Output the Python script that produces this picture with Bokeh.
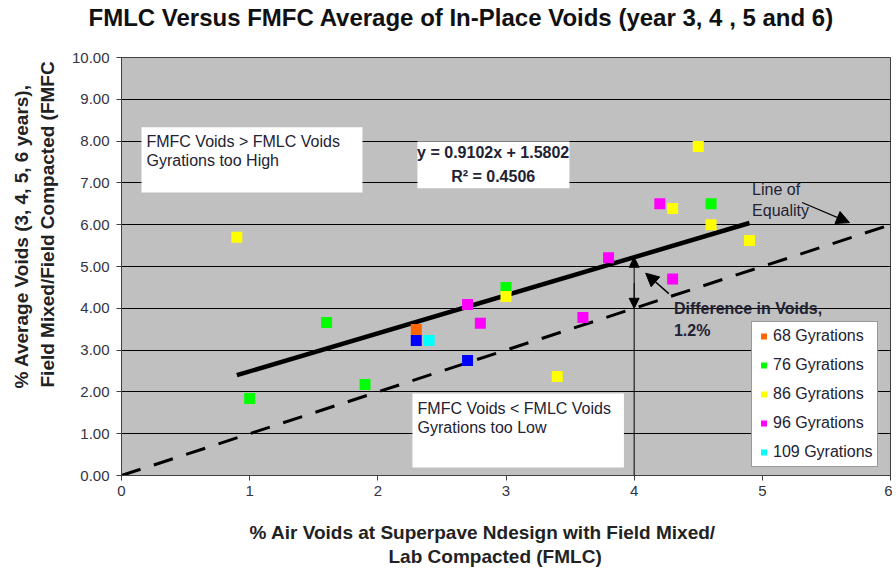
from bokeh.plotting import figure
from bokeh.models import (Range1d, FixedTicker, NumeralTickFormatter, BoxAnnotation, Label,
                          Arrow, NormalHead, Legend, LegendItem, Title)
from bokeh.embed import file_html
from bokeh.resources import INLINE

FONT = "Liberation Sans"

# ---- data ----
x68 = [2.3]
y68 = [3.49]
x76 = [1.0, 1.6, 1.9, 3.0, 4.6]
y76 = [1.84, 3.66, 2.18, 4.50, 6.50]
x86 = [0.9, 3.0, 3.4, 4.3, 4.5, 4.6, 4.9]
y86 = [5.70, 4.28, 2.37, 6.39, 7.87, 6.00, 5.62]
x96 = [2.7, 2.8, 3.6, 3.8, 4.2, 4.3]
y96 = [4.09, 3.64, 3.78, 5.21, 6.50, 4.70]
x109 = [2.4]
y109 = [3.23]
x_other = [2.3, 2.7]
y_other = [3.23, 2.75]

slope = 0.9102
intercept = 1.5802
trend_x = [0.9, 4.9]
equality_x = [0, 6]
y_ticks = [0, 1, 2, 3, 4, 5, 6, 7, 8, 9, 10]
x_ticks = [0, 1, 2, 3, 4, 5, 6]

p = figure(width=892, height=567, output_backend="svg", toolbar_location=None,
           x_range=Range1d(0, 6), y_range=Range1d(0, 10),
           min_border_left=121, min_border_right=2, min_border_top=57, min_border_bottom=88)

p.background_fill_color = "#c0c0c0"
p.border_fill_color = "white"
p.outline_line_color = "#404040"
p.outline_line_width = 1

p.xgrid.grid_line_color = None
p.ygrid.grid_line_color = "black"
p.ygrid.grid_line_width = 1
p.ygrid.ticker = FixedTicker(ticks=y_ticks)

p.yaxis.ticker = FixedTicker(ticks=y_ticks)
p.yaxis.formatter = NumeralTickFormatter(format="0.00")
p.xaxis.ticker = FixedTicker(ticks=x_ticks)
for ax in (p.xaxis, p.yaxis):
    ax.major_label_text_font = FONT
    ax.major_label_text_font_size = "15px"
    ax.major_label_text_color = "#333344"
    ax.axis_line_color = "#404040"
    ax.major_tick_line_color = "#404040"
    ax.major_tick_out = 5
    ax.major_tick_in = 0
    ax.minor_tick_line_color = None
p.yaxis.major_label_standoff = 7


def title(t, side, offset, standoff, size="19px", color="#222222"):
    tt = Title(text=t, align="left", offset=offset, standoff=standoff,
               text_font=FONT, text_font_size=size, text_font_style="bold",
               text_color=color)
    p.add_layout(tt, side)


title("FMLC Versus FMFC Average of In-Place Voids (year 3, 4 , 5 and 6)\n ", "above",
      -33, 0, size="24px", color="#111111")
title(" \n% Air Voids at Superpave Ndesign with Field Mixed/", "below", 128, 0)
title("Lab Compacted (FMLC)", "below", 267, 2)
title("Field Mixed/Field Compacted (FMFC", "left", 88, 21)
title("% Average Voids (3, 4, 5, 6 years),", "left", 87, -15)


def txt(x, y, t, bold=False, align="left"):
    p.add_layout(Label(x=x, y=y, text=t, text_font=FONT, text_font_size="16px",
                       text_font_style="bold" if bold else "normal", text_color="#222233",
                       text_align=align, text_baseline="middle"))


# text boxes
p.add_layout(BoxAnnotation(left=0.156, right=1.88, bottom=6.77, top=8.33,
                           fill_color="white", fill_alpha=1, line_color=None))
p.add_layout(BoxAnnotation(left=2.309, right=3.495, bottom=6.87, top=7.99,
                           fill_color="white", fill_alpha=1, line_color=None))
p.add_layout(BoxAnnotation(left=2.27, right=3.92, bottom=0.19, top=1.96,
                           fill_color="white", fill_alpha=1, line_color=None))

# lines
p.line(equality_x, equality_x, line_color="black", line_width=3, line_dash="20 14")
p.line(trend_x, [slope * v + intercept for v in trend_x], line_color="black", line_width=4.5)

# arrows
p.add_layout(Arrow(x_start=4, y_start=0, x_end=4, y_end=slope * 4 + intercept,
                   line_color="black", line_width=1,
                   end=NormalHead(size=10, fill_color="black", line_color="black")))
p.add_layout(Arrow(x_start=4, y_start=4.6, x_end=4, y_end=4.0,
                   line_color="black", line_width=1,
                   end=NormalHead(size=10, fill_color="black", line_color="black")))
p.add_layout(Arrow(x_start=4.27, y_start=4.35, x_end=4.09, y_end=4.84,
                   line_color="black", line_width=1.5,
                   end=NormalHead(size=13, fill_color="black", line_color="black")))
p.add_layout(Arrow(x_start=5.31, y_start=6.53, x_end=5.68, y_end=6.05,
                   line_color="black", line_width=1.2,
                   end=NormalHead(size=13, fill_color="black", line_color="black")))

# points
sz = 11
r68 = p.scatter(x68, y68, marker="square", size=sz, fill_color="#ff6600", line_color=None)
r76 = p.scatter(x76, y76, marker="square", size=sz, fill_color="#00ff00", line_color=None)
r86 = p.scatter(x86, y86, marker="square", size=sz, fill_color="#ffff00", line_color=None)
r96 = p.scatter(x96, y96, marker="square", size=sz, fill_color="#ff00ff", line_color=None)
r109 = p.scatter(x109, y109, marker="square", size=sz, fill_color="#00ffff", line_color=None)
p.scatter(x_other, y_other, marker="square", size=sz, fill_color="#0000ff", line_color=None)

# in-plot annotations
txt(0.195, 8.0, "FMFC Voids > FMLC Voids")
txt(0.195, 7.54, "Gyrations too High")
txt(2.90, 7.73, "y = 0.9102x + 1.5802", bold=True, align="center")
txt(2.90, 7.15, "R² = 0.4506", bold=True, align="center")
txt(2.31, 1.60, "FMFC Voids < FMLC Voids")
txt(2.31, 1.15, "Gyrations too Low")
txt(4.92, 6.84, "Line of")
txt(4.92, 6.35, "Equality")
txt(4.31, 4.0, "Difference in Voids,", bold=True)
txt(4.31, 3.47, "1.2%", bold=True)

legend = Legend(items=[
    LegendItem(label="68 Gyrations", renderers=[r68]),
    LegendItem(label="76 Gyrations", renderers=[r76]),
    LegendItem(label="86 Gyrations", renderers=[r86]),
    LegendItem(label="96 Gyrations", renderers=[r96]),
    LegendItem(label="109 Gyrations", renderers=[r109]),
], location=(630, 8))
legend.label_text_font = FONT
legend.label_text_font_size = "16px"
legend.label_text_color = "#222233"
legend.label_height = 20
legend.glyph_height = 20
legend.glyph_width = 15
legend.spacing = 9
legend.padding = 4
legend.margin = 0
legend.border_line_color = "#333333"
legend.background_fill_color = "white"
legend.background_fill_alpha = 1
legend.label_standoff = 2
p.add_layout(legend, "center")

open("out.html", "w").write(file_html(p, INLINE))
